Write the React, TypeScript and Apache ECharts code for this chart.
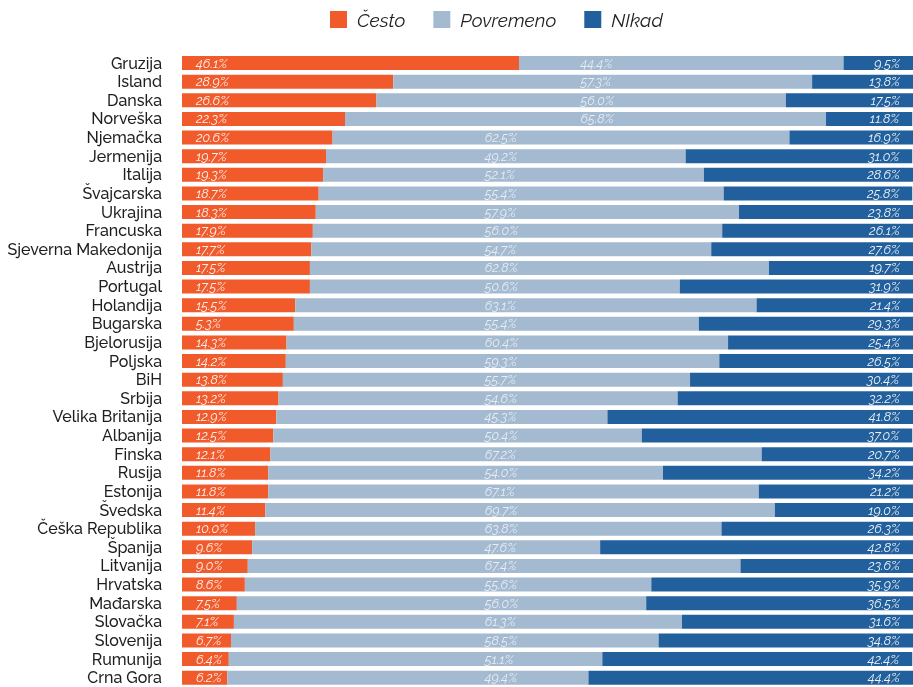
import React, { useEffect, useRef } from "react";
import * as echarts from "echarts";

const categories = [
  "Gruzija", "Island", "Danska", "Norveška", "Njemačka", "Jermenija", "Italija", "Švajcarska",
  "Ukrajina", "Francuska", "Sjeverna Makedonija", "Austrija", "Portugal", "Holandija", "Bugarska",
  "Bjelorusija", "Poljska", "BiH", "Srbija", "Velika Britanija", "Albanija", "Finska", "Rusija",
  "Estonija", "Švedska", "Češka Republika", "Španija", "Litvanija", "Hrvatska", "Mađarska",
  "Slovačka", "Slovenija", "Rumunija", "Crna Gora",
];

const cesto = [
  46.1, 28.9, 26.6, 22.3, 20.6, 19.7, 19.3, 18.7, 18.3, 17.9, 17.7, 17.5, 17.5, 15.5, 15.3,
  14.3, 14.2, 13.8, 13.2, 12.9, 12.5, 12.1, 11.8, 11.8, 11.4, 10.0, 9.6, 9.0, 8.6, 7.5, 7.1,
  6.7, 6.4, 6.2,
];

const povremeno = [
  44.4, 57.3, 56.0, 65.8, 62.5, 49.2, 52.1, 55.4, 57.9, 56.0, 54.7, 62.8, 50.6, 63.1, 55.4,
  60.4, 59.3, 55.7, 54.6, 45.3, 50.4, 67.2, 54.0, 67.1, 69.7, 63.8, 47.6, 67.4, 55.6, 56.0,
  61.3, 58.5, 51.1, 49.4,
];

const nikad = [
  9.5, 13.8, 17.5, 11.8, 16.9, 31.0, 28.6, 25.8, 23.8, 26.1, 27.6, 19.7, 31.9, 21.4, 29.3,
  25.4, 26.5, 30.4, 32.2, 41.8, 37.0, 20.7, 34.2, 21.2, 19.0, 26.3, 42.8, 23.6, 35.9, 36.5,
  31.6, 34.8, 42.4, 44.4,
];

// Label text as printed in the source (Bugarska's "Često" label reads 5.3%)
const cestoLabelOverrides: Record<string, string> = { Bugarska: "5.3%" };

// x (axis value) where the "Povremeno" label is anchored in the source
const povremenoLabelAnchor = [54.5, 54.5, 54.5, 54.5];
const povremenoLabelAnchorDefault = 41.4;

const seriesNames = ["Često", "Povremeno", "NIkad"];
const colors = ["#F15A2B", "#A4BAD1", "#22609D"];

const FONT = "Raleway, 'Open Sans', sans-serif";

export default function App() {
  const ref = useRef<HTMLDivElement>(null);

  useEffect(() => {
    if (!ref.current) return;
    const chart = echarts.init(ref.current, null, { renderer: "svg" });

    const valueLabel = {
      show: true,
      color: "rgba(255,255,255,0.92)",
      fontSize: 13,
      fontStyle: "italic" as const,
      fontFamily: FONT,
      formatter: (p: any) => Number(p.value).toFixed(1) + "%",
    };

    chart.setOption({
      animation: false,
      legend: {
        data: seriesNames,
        left: 330,
        top: 10,
        padding: 0,
        icon: "rect",
        itemWidth: 17,
        itemHeight: 17,
        itemGap: 28,
        textStyle: {
          fontSize: 19,
          fontStyle: "italic",
          color: "#222",
          fontFamily: FONT,
          padding: [0, 0, 0, 5],
        },
      },
      grid: { left: 182, right: 0, top: 53.7, height: 635.8, containLabel: false },
      xAxis: { type: "value", min: 0, max: 100, show: false },
      yAxis: {
        type: "category",
        data: categories,
        inverse: true,
        axisLine: { show: false },
        axisTick: { show: false },
        splitLine: { show: false },
        axisLabel: {
          interval: 0,
          fontSize: 16,
          fontWeight: 500,
          color: "#1e1e1e",
          margin: 20,
          fontFamily: FONT,
        },
      },
      series: [
        {
          name: seriesNames[0],
          type: "bar",
          stack: "total",
          barWidth: 14,
          itemStyle: { color: colors[0] },
          data: cesto.map((v, i) => {
            const o = cestoLabelOverrides[categories[i]];
            return o ? { value: v, label: { formatter: o } } : v;
          }),
          label: { ...valueLabel, position: "insideLeft", distance: 14 },
        },
        {
          name: seriesNames[1],
          type: "bar",
          stack: "total",
          barWidth: 14,
          itemStyle: { color: colors[1] },
          data: povremeno,
          label: { show: false },
        },
        {
          name: seriesNames[2],
          type: "bar",
          stack: "total",
          barWidth: 14,
          itemStyle: { color: colors[2] },
          data: nikad,
          label: { ...valueLabel, position: "insideRight", distance: 13 },
        },
        {
          name: "povremenoLabels",
          type: "scatter",
          symbolSize: 0,
          silent: true,
          z: 5,
          data: povremeno.map((v, i) => [
            povremenoLabelAnchor[i] ?? povremenoLabelAnchorDefault,
            categories[i],
            v,
          ]),
          label: {
            ...valueLabel,
            position: "right",
            distance: 0,
            formatter: (p: any) => Number(p.value[2]).toFixed(1) + "%",
          },
        },
      ],
    });

    return () => chart.dispose();
  }, []);

  return (
    <div
      ref={ref}
      style={{ position: "fixed", left: 0, top: 0, width: 913, height: 687 }}
    />
  );
}
